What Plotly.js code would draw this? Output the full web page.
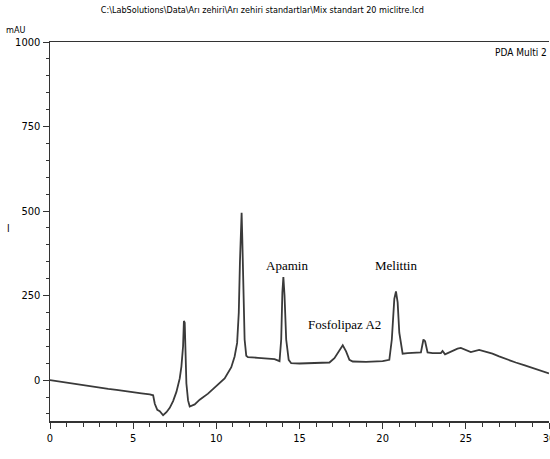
<!DOCTYPE html>
<html>
<head>
<meta charset="utf-8">
<script src="https://cdn.plot.ly/plotly-3.0.1.min.js"></script>
<style>html,body{margin:0;padding:0;background:#fff;}#chart{width:550px;height:459px;}</style>
</head>
<body>
<div id="chart"></div>
<script>
// Retention time (min)
const time = [0, 0.5, 1, 1.5, 2, 2.5, 3, 3.5, 4, 4.5, 5, 5.5, 6, 6.2, 6.3, 6.45, 6.6, 6.8, 7.0, 7.2, 7.4, 7.6, 7.8, 7.9, 8.0, 8.05, 8.1, 8.15, 8.2, 8.3, 8.4, 8.7, 9, 9.5, 10, 10.5, 10.9, 11.1, 11.25, 11.35, 11.42, 11.48, 11.52, 11.56, 11.62, 11.7, 11.8, 11.9, 12.5, 13, 13.5, 13.8, 13.9, 13.97, 14.03, 14.1, 14.2, 14.35, 14.5, 15, 16, 16.8, 17.1, 17.3, 17.6, 17.8, 18.0, 18.2, 19, 20, 20.4, 20.55, 20.7, 20.8, 20.9, 21.0, 21.2, 21.5, 22, 22.3, 22.45, 22.55, 22.7, 23, 23.5, 23.6, 23.75, 24, 24.5, 24.7, 25, 25.3, 25.8, 26.2, 26.6, 27, 27.5, 28, 28.5, 29, 29.5, 30];
// Absorbance (mAU)
const absorbance = [0, -4, -8, -11, -15, -18, -22, -26, -29, -33, -36, -39, -42, -45, -70, -88, -92, -104, -95, -82, -62, -35, 5, 40, 100, 175, 170, 60, -10, -60, -78, -72, -58, -40, -18, 5, 38, 70, 110, 200, 350, 470, 495, 420, 250, 120, 72, 68, 66, 64, 62, 56, 120, 260, 305, 250, 120, 60, 50, 49, 50, 52, 65, 80, 103, 85, 60, 55, 54, 56, 60, 120, 240, 262, 230, 140, 78, 80, 80, 82, 120, 115, 82, 80, 80, 86, 76, 82, 93, 95, 88, 83, 89, 84, 78, 70, 60, 52, 44, 36, 28, 20];

const peakNames = ["Apamin", "Fosfolipaz A2", "Melittin"];
const peakLabelX = [14.25, 17.68, 20.8];
const peakLabelY = [340, 163, 340];

const yTicks = [0, 250, 500, 750, 1000];
const xTicks = [0, 5, 10, 15, 20, 25, 30];

const titleText = "C:\\LabSolutions\\Data\\Arı zehiri\\Arı zehiri standartlar\\Mix standart 20 miclitre.lcd";

const narrow = "DejaVu Sans Condensed, Liberation Sans Narrow, Liberation Sans, sans-serif";

const annotations = peakNames.map((n, i) => ({
  x: peakLabelX[i], y: peakLabelY[i], xref: 'x', yref: 'y', text: n, showarrow: false,
  font: {family: "Liberation Serif, Times New Roman, serif", size: 13, color: '#000'}
}));
annotations.push({x: 1, y: 1, xref: 'paper', yref: 'paper', xanchor: 'right', yanchor: 'top', yshift: -3,
  text: "PDA Multi 2", showarrow: false, font: {family: narrow, size: 10, color: '#000'}});
annotations.push({x: 0, y: 1, xref: 'paper', yref: 'paper', xanchor: 'left', yanchor: 'bottom', xshift: -46, yshift: 5,
  text: "mAU", showarrow: false, font: {family: narrow, size: 9, color: '#000'}});
annotations.push({x: 0, y: 0.509, xref: 'paper', yref: 'paper', xanchor: 'center', yanchor: 'middle', xshift: -42,
  text: "I", showarrow: false, font: {family: narrow, size: 10, color: '#000'}});

Plotly.newPlot('chart', [{
  x: time, y: absorbance, type: 'scatter', mode: 'lines',
  line: {color: '#3a3a3a', width: 1.8}, hoverinfo: 'skip'
}], {
  width: 550, height: 459,
  margin: {l: 50, r: 1, t: 42, b: 38},
  paper_bgcolor: '#fff', plot_bgcolor: '#fff',
  showlegend: false,
  title: {text: titleText, x: 0.477, xanchor: 'center', y: 0.978, yanchor: 'middle',
          font: {family: narrow, size: 9, color: '#000'}},
  xaxis: {range: [0, 30], tickvals: xTicks, showgrid: false, zeroline: false,
          showline: true, linecolor: '#333', linewidth: 1.5, mirror: true,
          ticks: 'outside', ticklen: 6, tickcolor: '#333', ticklabeloverflow: 'allow',
          minor: {dtick: 1, ticks: 'outside', ticklen: 4, tickcolor: '#333', showgrid: false},
          tickfont: {family: narrow, size: 11, color: '#000'}},
  yaxis: {range: [-121, 1000], tickvals: yTicks, showgrid: false, zeroline: false,
          showline: true, linecolor: '#333', linewidth: 1.5,
          ticks: 'outside', ticklen: 6, tickcolor: '#333',
          minor: {dtick: 50, ticks: 'outside', ticklen: 3, tickcolor: '#333', showgrid: false},
          tickfont: {family: narrow, size: 11, color: '#000'}},
  annotations: annotations
}, {displayModeBar: false, staticPlot: true});
</script>
</body>
</html>
